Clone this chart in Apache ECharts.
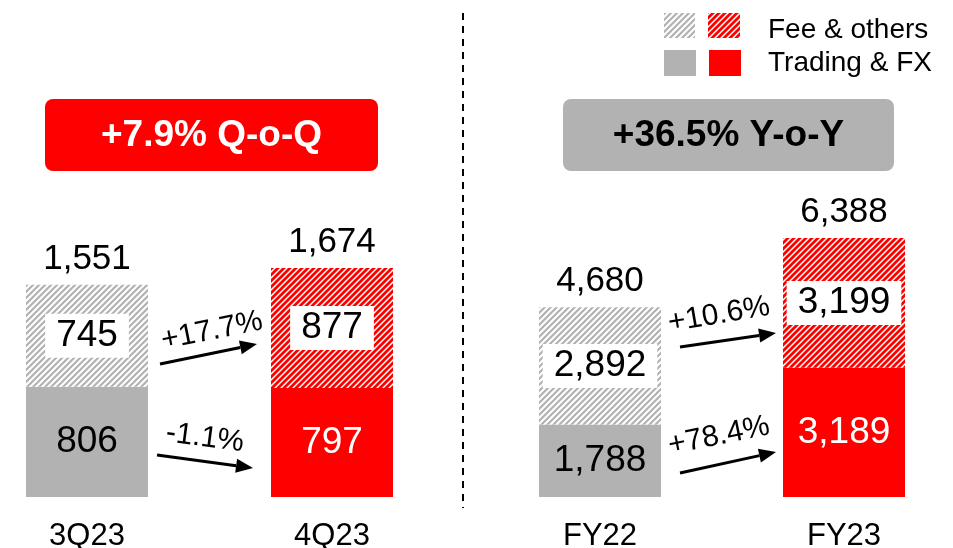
<!DOCTYPE html>
<html>
<head>
<meta charset="utf-8">
<script src="https://cdn.jsdelivr.net/npm/echarts@6/dist/echarts.min.js"></script>
<style>
  html, body { margin: 0; padding: 0; background: #fff; }
  #chart { width: 953px; height: 548px; }
</style>
</head>
<body>
<div id="chart"></div>
<script>
// data
const quarterLabels = ['3Q23', '4Q23'];
const quarterTrading = [806, 797];
const quarterFee = [745, 877];
const yearLabels = ['FY22', 'FY23'];
const yearTrading = [1788, 3189];
const yearFee = [2892, 3199];
const quarterGrowth = ['+17.7%', '-1.1%']; // fee, trading
const yearGrowth = ['+10.6%', '+78.4%'];
const headlines = ['+7.9% Q-o-Q', '+36.5% Y-o-Y'];
const legendNames = ['Fee & others', 'Trading & FX'];

const FONT = '"Liberation Sans", Arial, sans-serif';
const GRAY = '#b2b2b2';
const RED = '#ff0000';

// diagonal hatch pattern
function hatch(color, lw) {
  const s = 6;
  const c = document.createElement('canvas');
  c.width = s; c.height = s;
  const ctx = c.getContext('2d');
  ctx.fillStyle = '#fff';
  ctx.fillRect(0, 0, s, s);
  ctx.strokeStyle = color;
  ctx.lineWidth = lw;
  ctx.beginPath();
  ctx.moveTo(0, s); ctx.lineTo(s, 0);
  ctx.moveTo(-s / 2, s / 2); ctx.lineTo(s / 2, -s / 2);
  ctx.moveTo(s / 2, s * 1.5); ctx.lineTo(s * 1.5, s / 2);
  ctx.stroke();
  return { image: c, repeat: 'repeat' };
}
const solidColors = [GRAY, RED];
const hatchColors = [hatch(GRAY, 2.2), hatch(RED, 2.8)];
const tradingLabelColors = ['#000', '#fff'];

const fmt = v => Number(v).toLocaleString('en-US');

function panelSeries(i, trading, fee) {
  const stack = 'p' + i;
  return [
    {
      type: 'bar', name: legendNames[1], xAxisIndex: i, yAxisIndex: i, stack,
      barWidth: 122, clip: false, silent: true,
      data: trading.map((v, j) => ({ value: v, itemStyle: { color: solidColors[j] }, label: { color: tradingLabelColors[j] } })),
      label: { show: true, position: 'inside', fontSize: 37, fontFamily: FONT, formatter: p => fmt(p.value) }
    },
    {
      type: 'bar', name: legendNames[0], xAxisIndex: i, yAxisIndex: i, stack,
      barWidth: 122, clip: false, silent: true,
      data: fee.map((v, j) => ({ value: v, itemStyle: { color: hatchColors[j] } })),
      label: {
        show: true, position: 'inside', fontSize: 37, fontFamily: FONT, color: '#000',
        backgroundColor: '#fff', padding: [3, 11], lineHeight: 38,
        formatter: p => fmt(p.value)
      }
    },
    {
      type: 'scatter', xAxisIndex: i, yAxisIndex: i, symbolSize: 0, clip: false, silent: true,
      itemStyle: { color: '#000' },
      data: trading.map((v, j) => v + fee[j]),
      label: {
        show: true, position: 'top', distance: 8, fontSize: 35, fontFamily: FONT,
        color: '#000', opacity: 1, textBorderWidth: 0, formatter: p => fmt(p.value)
      }
    }
  ];
}

function arrow(x1, y1, x2, y2) {
  const a = Math.atan2(y2 - y1, x2 - x1);
  const len = 17, half = 7;
  const bx = x2 - len * Math.cos(a), by = y2 - len * Math.sin(a);
  const px = -Math.sin(a) * half, py = Math.cos(a) * half;
  return [
    { type: 'line', shape: { x1, y1, x2: bx, y2: by }, style: { stroke: '#000', lineWidth: 3 } },
    { type: 'polygon', shape: { points: [[x2, y2], [bx + px, by + py], [bx - px, by - py]] }, style: { fill: '#000' } }
  ];
}

function label(text, x, y, rot, opts) {
  return Object.assign({
    type: 'text', x, y, rotation: rot,
    style: {
      text, x: 0, y: 0, fill: '#000', fontSize: 30, fontFamily: FONT,
      align: 'center', verticalAlign: 'middle', textAlign: 'center', textVerticalAlign: 'middle'
    }
  }, opts || {});
}

function headline(text, x, w, bg, fg) {
  return [
    { type: 'rect', shape: { x, y: 99, width: w, height: 72, r: 8 }, style: { fill: bg } },
    label(text, x + w / 2, 136, 0, {
      style: {
        text, x: 0, y: 0, fill: fg, fontSize: 37, fontWeight: 'bold', fontFamily: FONT,
        align: 'center', verticalAlign: 'middle', textAlign: 'center', textVerticalAlign: 'middle'
      }
    })
  ];
}

const graphics = [].concat(
  // divider
  [{ type: 'line', shape: { x1: 463, y1: 13, x2: 463, y2: 508 }, style: { stroke: '#000', lineWidth: 2, lineDash: [7, 6] } }],
  headline(headlines[0], 45, 333, RED, '#fff'),
  headline(headlines[1], 563, 331, GRAY, '#000'),
  arrow(160, 364, 257, 344),
  arrow(157, 455, 253, 468),
  arrow(680, 347, 776, 333),
  arrow(680, 473, 776, 452),
  [
    label(quarterGrowth[0], 212, 331, 0.2),
    label(quarterGrowth[1], 205, 438, -0.13),
    label(yearGrowth[0], 719, 315, 0.17),
    label(yearGrowth[1], 719, 436, 0.2)
  ],
  // legend
  [
    { type: 'rect', shape: { x: 664, y: 13, width: 31, height: 25 }, style: { fill: hatchColors[0] } },
    { type: 'rect', shape: { x: 708, y: 13, width: 32, height: 25 }, style: { fill: hatchColors[1] } },
    { type: 'rect', shape: { x: 664, y: 50, width: 32, height: 26 }, style: { fill: GRAY } },
    { type: 'rect', shape: { x: 709, y: 50, width: 32, height: 26 }, style: { fill: RED } },
    { type: 'text', style: { text: legendNames[0], x: 768, y: 30, fontSize: 28, fontFamily: FONT, fill: '#000', verticalAlign: 'middle', textVerticalAlign: 'middle' } },
    { type: 'text', style: { text: legendNames[1], x: 768, y: 63, fontSize: 28, fontFamily: FONT, fill: '#000', verticalAlign: 'middle', textVerticalAlign: 'middle' } }
  ]
);

const axisX = data => ({
  type: 'category', data, boundaryGap: false,
  axisLine: { show: false }, axisTick: { show: false },
  axisLabel: { fontSize: 31, fontFamily: FONT, color: '#000', margin: 24 }
});

const chart = echarts.init(document.getElementById('chart'));
chart.setOption({
  animation: false,
  grid: [
    { left: 87, width: 245, top: 196, bottom: 51, outerBoundsMode: 'none' },
    { left: 600, width: 244, top: 193, bottom: 51, outerBoundsMode: 'none' }
  ],
  xAxis: [
    Object.assign(axisX(quarterLabels), { gridIndex: 0 }),
    Object.assign(axisX(yearLabels), { gridIndex: 1 })
  ],
  yAxis: [
    { type: 'value', gridIndex: 0, min: 0, max: 2200, show: false },
    { type: 'value', gridIndex: 1, min: 0, max: 7500, show: false }
  ],
  series: [].concat(
    panelSeries(0, quarterTrading, quarterFee),
    panelSeries(1, yearTrading, yearFee)
  ),
  graphic: { elements: graphics }
});
</script>
</body>
</html>
